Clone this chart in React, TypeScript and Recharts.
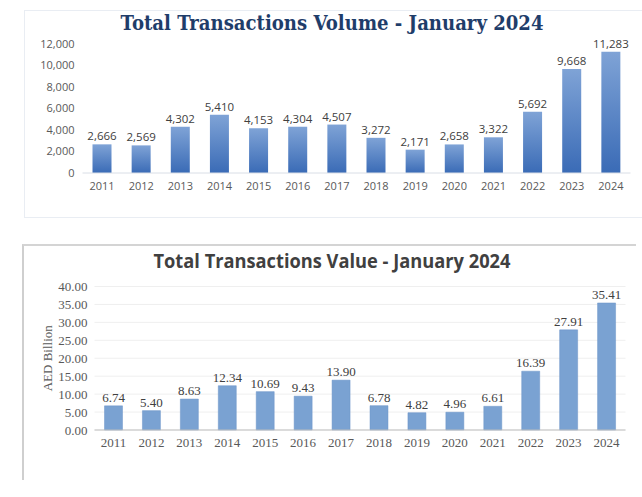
import React from 'react';
import { BarChart, Bar, XAxis, YAxis, CartesianGrid, LabelList } from 'recharts';

const years = ['2011', '2012', '2013', '2014', '2015', '2016', '2017', '2018', '2019', '2020', '2021', '2022', '2023', '2024'];
const volumeValues = [2666, 2569, 4302, 5410, 4153, 4304, 4507, 3272, 2171, 2658, 3322, 5692, 9668, 11283];
const valueValues = [6.74, 5.4, 8.63, 12.34, 10.69, 9.43, 13.9, 6.78, 4.82, 4.96, 6.61, 16.39, 27.91, 35.41];
const volumeTicks = [0, 2000, 4000, 6000, 8000, 10000, 12000];
const valueTicks = [0, 5, 10, 15, 20, 25, 30, 35, 40];
const volumeTitle = 'Total Transactions Volume - January 2024';
const valueTitle = 'Total Transactions Value - January 2024';
const valueAxisLabel = 'AED Billion';

const volumeData = years.map((y, i) => ({ year: y, v: volumeValues[i] }));
const valueData = years.map((y, i) => ({ year: y, v: valueValues[i] }));

const fmtComma = (n: number) => n.toLocaleString('en-US');
const fmt2 = (n: number) => Number(n).toFixed(2);

const sansTick = { fontFamily: '"Open Sans", sans-serif', fontSize: 11, fill: '#595959' };
const serifTick = { fontFamily: '"Liberation Serif", serif', fontSize: 13, fill: '#595959' };

export default function App() {
  return (
    <div style={{ position: 'absolute', left: 0, top: 0, width: 642, height: 497, background: '#ffffff', overflow: 'hidden' }}>
      {/* top frame */}
      <div style={{ position: 'absolute', left: 24, top: 10, width: 630, height: 208, border: '1px solid #e9edf3', boxSizing: 'border-box' }} />
      {/* bottom frame */}
      <div style={{ position: 'absolute', left: 22, top: 244, width: 614, height: 236, borderLeft: '2px solid #cfcfcf', borderTop: '2px solid #d4d4d4', boxSizing: 'border-box' }} />

      <div style={{ position: 'absolute', left: 0, top: 0 }}>
        <BarChart width={642} height={220} data={volumeData} margin={{ top: 44, right: 11.5, left: 22.5, bottom: 17 }}>
          <defs>
            <linearGradient id="volGrad" x1="0" y1="0" x2="0" y2="1">
              <stop offset="0%" stopColor="#7fa3d6" />
              <stop offset="100%" stopColor="#3a6bb6" />
            </linearGradient>
          </defs>
          <XAxis dataKey="year" axisLine={{ stroke: '#d9dee6' }} tickLine={false} tickSize={0} tickMargin={9} tick={sansTick} interval={0} height={30} />
          <YAxis domain={[0, 12000]} ticks={volumeTicks} interval={0} axisLine={false} tickLine={false} tickSize={0} tickMargin={8} tick={sansTick} tickFormatter={fmtComma} width={60} />
          <Bar dataKey="v" fill="url(#volGrad)" barSize={19} isAnimationActive={false}>
            <LabelList dataKey="v" position="top" offset={4} formatter={fmtComma} style={{ fontFamily: '"Open Sans", sans-serif', fontSize: 11.5, fill: '#404040' }} />
          </Bar>
        </BarChart>
      </div>

      <div style={{ position: 'absolute', left: 0, top: 230 }}>
        <BarChart width={642} height={267} data={valueData} margin={{ top: 56.5, right: 16.5, left: 34.5, bottom: 37 }}>
          <CartesianGrid vertical={false} stroke="#efefef" />
          <XAxis dataKey="year" axisLine={{ stroke: '#bfbfbf' }} tickLine={false} tickSize={0} tickMargin={8} tick={serifTick} interval={0} height={30} />
          <YAxis
            domain={[0, 40]}
            ticks={valueTicks}
            interval={0}
            axisLine={false}
            tickLine={false}
            tickSize={0}
            tickMargin={7}
            tick={serifTick}
            tickFormatter={fmt2}
            width={60}
            label={{
              content: (p: any) => {
                const vb = p.viewBox || { x: 34.5, y: 56.5, width: 60, height: 143.5 };
                const cx = vb.x + 12.5;
                const cy = vb.y + vb.height / 2;
                return (
                  <text x={cx} y={cy} transform={`rotate(-90 ${cx} ${cy})`} textAnchor="middle" dominantBaseline="central" fontFamily='"Liberation Serif", serif' fontSize={13} fill="#595959">
                    {valueAxisLabel}
                  </text>
                );
              },
            }}
          />
          <Bar dataKey="v" fill="#7aa2d2" stroke="#6c95c8" strokeWidth={0.5} barSize={18} isAnimationActive={false}>
            <LabelList dataKey="v" position="top" offset={4} formatter={fmt2} style={{ fontFamily: '"Liberation Serif", serif', fontSize: 13, fill: '#404040' }} />
          </Bar>
        </BarChart>
      </div>

      <svg width={642} height={497} style={{ position: 'absolute', left: 0, top: 0, pointerEvents: 'none' }}>
        <text x={332} y={30} textAnchor="middle" fontFamily='"DejaVu Serif", serif' fontWeight="bold" fontSize={20} fill="#1f3d6a" textLength={423} lengthAdjust="spacingAndGlyphs">
          {volumeTitle}
        </text>
        <text x={332} y={268} textAnchor="middle" fontFamily='"Open Sans", sans-serif' fontWeight="bold" fontSize={19} fill="#404040" textLength={357} lengthAdjust="spacingAndGlyphs">
          {valueTitle}
        </text>
      </svg>
    </div>
  );
}
